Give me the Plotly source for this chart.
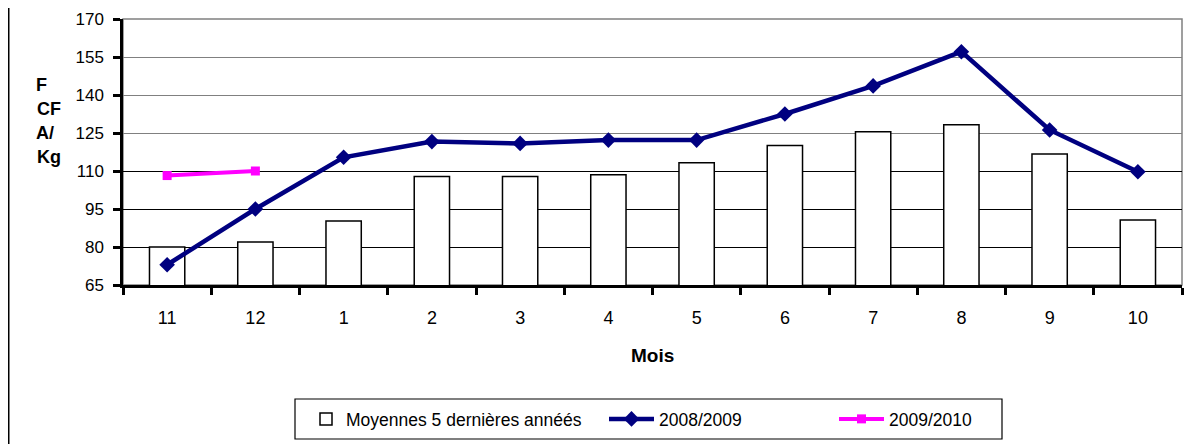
import plotly.graph_objects as go

months = ["11", "12", "1", "2", "3", "4", "5", "6", "7", "8", "9", "10"]
moyennes = [80, 82, 90.3, 107.8, 107.8, 108.5, 113.3, 120.1, 125.5, 128.3, 116.7, 90.7]
s2008 = [73, 95, 115.4, 121.6, 120.9, 122.2, 122.2, 132.5, 143.6, 157.1, 126.2, 109.7]
s2009 = [108.2, 110]
months_2009 = months[:2]
y_ticks = [65, 80, 95, 110, 125, 140, 155, 170]
y_dark_grid = [80, 95, 110]
y_range = [65, 170]

FONT = "Liberation Sans, Arial, sans-serif"
W, H = 1190, 436
L, R, T, B = 115, 16, 11, 159
PW = W - L - R
PH = H - T - B


def px(x):
    return (x - L) / PW


def py(y):
    return (T + PH - y) / PH


fig = go.Figure()
fig.add_trace(go.Bar(
    x=months, y=moyennes, name="Moyennes 5 dernières annéés",
    marker=dict(color="white", line=dict(color="black", width=1.5)),
    legend="legend",
))
fig.add_trace(go.Scatter(
    x=months, y=s2008, name="2008/2009", mode="lines+markers",
    line=dict(color="#000080", width=4.5),
    marker=dict(symbol="diamond", size=12, color="#000080"),
    legend="legend2",
))
fig.add_trace(go.Scatter(
    x=months_2009, y=s2009, name="2009/2010", mode="lines+markers",
    line=dict(color="#FF00FF", width=4),
    marker=dict(symbol="square", size=9, color="#FF00FF"),
    legend="legend3", yaxis="y2",
))

leg_common = dict(orientation="h", xanchor="left", yanchor="middle",
                  bgcolor="rgba(0,0,0,0)", borderwidth=0,
                  font=dict(family=FONT, size=17.5, color="black"))

fig.update_layout(
    width=W, height=H,
    margin=dict(l=L, r=R, t=T, b=B, autoexpand=False),
    paper_bgcolor="white", plot_bgcolor="white",
    font=dict(family=FONT, size=17, color="black"),
    bargap=0.6,
    showlegend=True,
    legend=dict(x=px(298), y=py(411), **leg_common),
    legend2=dict(x=px(596), y=py(411), itemwidth=45, **leg_common),
    legend3=dict(x=px(826), y=py(411), itemwidth=45, **leg_common),
    xaxis=dict(
        type="category", categoryorder="array", categoryarray=months,
        range=[-0.5, len(months) - 0.5],
        showline=True, linecolor="black", linewidth=2.5,
        ticks="outside", tickson="boundaries", ticklen=7, tickwidth=2.5, tickcolor="black",
        showgrid=False, zeroline=False,
        tickfont=dict(family=FONT, size=18),
        ticklabelstandoff=15,
    ),
    yaxis=dict(
        range=y_range, tickvals=y_ticks,
        showline=True, linecolor="black", linewidth=2.5,
        ticks="outside", ticklen=7, tickwidth=2.5, tickcolor="black",
        showgrid=True, gridcolor="#808080", gridwidth=1.2,
        zeroline=False,
        tickfont=dict(family=FONT, size=17),
        ticklabelstandoff=6,
    ),
    yaxis2=dict(
        overlaying="y", anchor="x", range=y_range, tickvals=y_dark_grid,
        showgrid=True, gridcolor="black", gridwidth=1,
        showticklabels=False, ticks="", showline=False, zeroline=False,
    ),
    shapes=[
        dict(type="rect", xref="paper", yref="paper", x0=0, x1=1, y0=0, y1=1,
             line=dict(color="#808080", width=1.5), layer="below"),
        dict(type="rect", xref="paper", yref="paper", x0=px(287), x1=px(994), y0=py(391), y1=py(431),
             line=dict(color="black", width=1.2)),
        dict(type="line", xref="paper", yref="paper", x0=px(0.75), x1=px(0.75), y0=-1, y1=1.2,
             line=dict(color="black", width=1.5)),
        dict(type="line", xref="paper", yref="paper", x0=px(1189), x1=px(1189), y0=-1, y1=1.2,
             line=dict(color="black", width=1.5)),
    ],
    annotations=[
        dict(text="<b>Mois</b>", xref="paper", yref="paper", x=0.5, y=py(347),
             showarrow=False, font=dict(family=FONT, size=19), yanchor="middle"),
        dict(text="<b>F</b>", xref="paper", yref="paper", x=px(26), y=py(77),
             showarrow=False, font=dict(family=FONT, size=18), yanchor="middle"),
        dict(text="<b>CF</b>", xref="paper", yref="paper", x=px(27), y=py(101),
             showarrow=False, font=dict(family=FONT, size=18), yanchor="middle"),
        dict(text="<b>A/</b>", xref="paper", yref="paper", x=px(26), y=py(125),
             showarrow=False, font=dict(family=FONT, size=18), yanchor="middle"),
        dict(text="<b>Kg</b>", xref="paper", yref="paper", x=px(27), y=py(149),
             showarrow=False, font=dict(family=FONT, size=18), yanchor="middle"),
    ],
)

fig.write_html("out.html")
